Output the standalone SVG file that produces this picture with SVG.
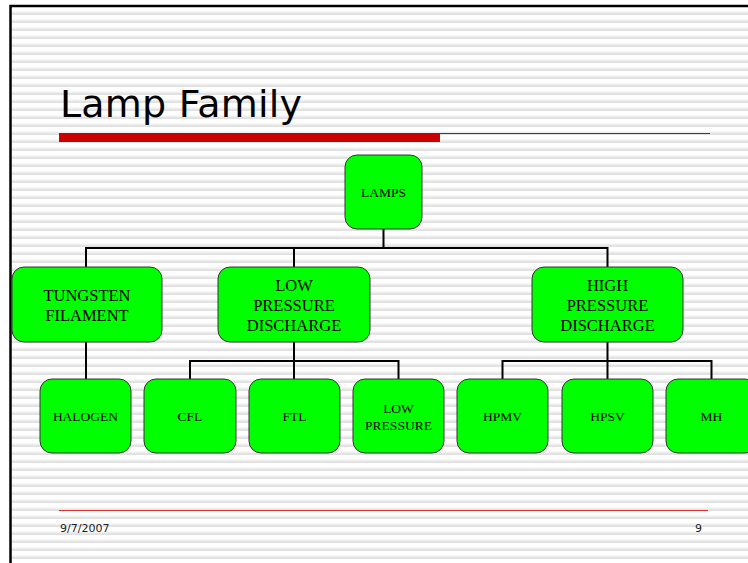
<svg xmlns="http://www.w3.org/2000/svg" width="748" height="563" viewBox="0 0 748 563">
  <defs>
    <pattern id="stripes" x="0" y="0" width="8" height="8" patternUnits="userSpaceOnUse">
      <rect x="0" y="0" width="8" height="8" fill="#ffffff"/>
      <rect x="0" y="3.5" width="8" height="1.5" fill="#f0f0f0"/>
      <rect x="0" y="5" width="8" height="2" fill="#e2e2e2"/>
    </pattern>
    <style>
      .node rect { fill: #00ff00; stroke: #333333; stroke-width: 1; }
      .node text { font-family: "Liberation Serif", "Times New Roman", serif; fill: #000000; text-anchor: middle; }
      .big { font-size: 16.5px; }
      .small { font-size: 13.5px; }
      #connectors path { fill: none; stroke: #000000; stroke-width: 2; }
      .footer { font-family: "DejaVu Sans", Verdana, sans-serif; font-size: 11px; fill: #222222; }
    </style>
  </defs>

  <!-- background -->
  <rect x="0" y="0" width="748" height="563" fill="#ffffff"/>
  <rect x="11" y="7" width="737" height="556" fill="url(#stripes)"/>
  <!-- frame -->
  <path d="M10.5 563 V6 H748" fill="none" stroke="#000000" stroke-width="2.5"/>

  <!-- title -->
  <text x="60" y="117" font-family="DejaVu Sans, Verdana, sans-serif" font-size="38" fill="#000000" textLength="242">Lamp Family</text>
  <rect x="59" y="133" width="381" height="9" fill="#cc0000"/>
  <line x1="440" y1="133.5" x2="710" y2="133.5" stroke="#cc0000" stroke-width="1"/>

  <!-- connectors -->
  <g id="connectors">
    <path d="M383.5 229 V248" stroke-width="3"/>
    <path d="M86 267 V248 H607.5 V267"/>
    <path d="M294 248 V267"/>
    <path d="M86 342 V379"/>
    <path d="M294 342 V361"/>
    <path d="M190 379 V361 H398.5 V379"/>
    <path d="M294 361 V379"/>
    <path d="M607.5 342 V361"/>
    <path d="M502.5 379 V361 H711.5 V379"/>
    <path d="M607.5 361 V379"/>
  </g>

  <!-- nodes -->
  <g id="lamps" class="node">
    <rect x="345" y="155" width="77" height="74" rx="12"/>
    <text x="383.5" y="197" class="small">LAMPS</text>
  </g>
  <g id="tungsten" class="node">
    <rect x="12" y="267" width="150" height="75" rx="12"/>
    <text x="87" y="301" class="big">TUNGSTEN</text>
    <text x="87" y="321" class="big">FILAMENT</text>
  </g>
  <g id="lowpd" class="node">
    <rect x="218" y="267" width="152" height="75" rx="12"/>
    <text x="294" y="291" class="big">LOW</text>
    <text x="294" y="311" class="big">PRESSURE</text>
    <text x="294" y="331" class="big">DISCHARGE</text>
  </g>
  <g id="highpd" class="node">
    <rect x="532" y="267" width="151" height="75" rx="12"/>
    <text x="607.5" y="291" class="big">HIGH</text>
    <text x="607.5" y="311" class="big">PRESSURE</text>
    <text x="607.5" y="331" class="big">DISCHARGE</text>
  </g>
  <g id="halogen" class="node">
    <rect x="40" y="379" width="91" height="74" rx="12"/>
    <text x="85.5" y="421" class="small">HALOGEN</text>
  </g>
  <g id="cfl" class="node">
    <rect x="144" y="379" width="92" height="74" rx="12"/>
    <text x="190" y="421" class="small">CFL</text>
  </g>
  <g id="ftl" class="node">
    <rect x="249" y="379" width="91" height="74" rx="12"/>
    <text x="294.5" y="421" class="small">FTL</text>
  </g>
  <g id="lowp" class="node">
    <rect x="353" y="379" width="91" height="74" rx="12"/>
    <text x="398.5" y="413" class="small">LOW</text>
    <text x="398.5" y="430" class="small">PRESSURE</text>
  </g>
  <g id="hpmv" class="node">
    <rect x="457" y="379" width="91" height="74" rx="12"/>
    <text x="502.5" y="421" class="small">HPMV</text>
  </g>
  <g id="hpsv" class="node">
    <rect x="562" y="379" width="91" height="74" rx="12"/>
    <text x="607.5" y="421" class="small">HPSV</text>
  </g>
  <g id="mh" class="node">
    <rect x="666" y="379" width="91" height="74" rx="12"/>
    <text x="711.5" y="421" class="small">MH</text>
  </g>

  <!-- footer -->
  <line x1="59" y1="510.5" x2="708" y2="510.5" stroke="#e03030" stroke-width="1"/>
  <text x="60" y="532" class="footer">9/7/2007</text>
  <text x="702" y="532" class="footer" text-anchor="end">9</text>
</svg>
